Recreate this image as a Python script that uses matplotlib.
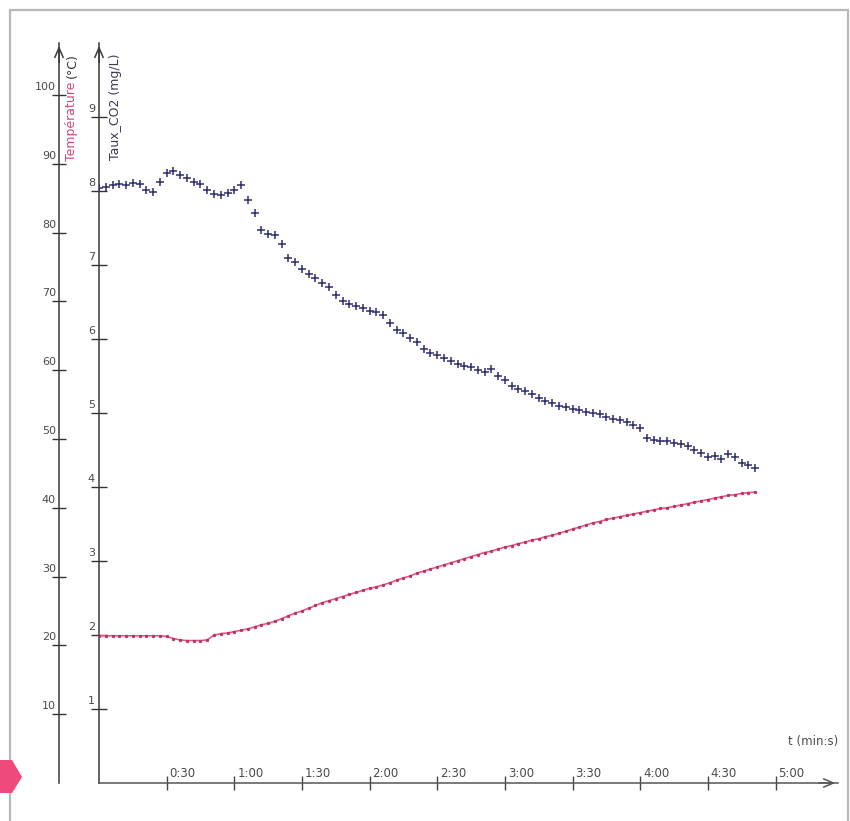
import numpy as np
import matplotlib
matplotlib.use('Agg')
import matplotlib.pyplot as plt
from matplotlib.patches import Polygon, Rectangle

plt.rcParams["font.family"] = ["DejaVu Sans"]

# samples every 3 s, from 0:00 to 4:51
time_s = np.arange(0, 294, 3)

co2_mgL = [
    8.04, 8.06, 8.08, 8.10, 8.08, 8.11, 8.10, 8.02, 7.99, 8.12,
    8.24, 8.27, 8.22, 8.18, 8.12, 8.10, 8.02, 7.96, 7.95, 7.97,
    8.02, 8.08, 7.88, 7.70, 7.47, 7.42, 7.40, 7.28, 7.10, 7.04,
    6.95, 6.88, 6.82, 6.76, 6.70, 6.60, 6.52, 6.47, 6.44, 6.42,
    6.38, 6.36, 6.32, 6.22, 6.12, 6.08, 6.02, 5.96, 5.86, 5.81,
    5.78, 5.74, 5.70, 5.66, 5.64, 5.62, 5.58, 5.55, 5.60, 5.50,
    5.44, 5.37, 5.33, 5.30, 5.26, 5.20, 5.16, 5.13, 5.10, 5.08,
    5.05, 5.04, 5.02, 5.00, 4.98, 4.95, 4.92, 4.90, 4.88, 4.84,
    4.80, 4.66, 4.64, 4.62, 4.62, 4.60, 4.58, 4.55, 4.50, 4.46,
    4.40, 4.42, 4.38, 4.45, 4.40, 4.32, 4.30, 4.26,
]

temp_C = [
    21.4, 21.4, 21.4, 21.4, 21.4, 21.4, 21.4, 21.4, 21.4, 21.4,
    21.3, 21.0, 20.8, 20.7, 20.7, 20.7, 20.8, 21.5, 21.7, 21.8,
    22.0, 22.2, 22.4, 22.7, 23.0, 23.2, 23.5, 23.9, 24.3, 24.7,
    25.0, 25.4, 25.8, 26.2, 26.5, 26.8, 27.1, 27.4, 27.7, 28.0,
    28.3, 28.5, 28.8, 29.1, 29.5, 29.8, 30.1, 30.5, 30.8, 31.1,
    31.4, 31.7, 32.0, 32.3, 32.6, 32.9, 33.2, 33.5, 33.7, 34.0,
    34.3, 34.5, 34.8, 35.0, 35.3, 35.5, 35.8, 36.0, 36.3, 36.6,
    36.9, 37.2, 37.5, 37.8, 38.0, 38.3, 38.5, 38.7, 38.9, 39.1,
    39.3, 39.5, 39.7, 39.9, 40.0, 40.2, 40.4, 40.6, 40.8, 41.0,
    41.2, 41.4, 41.6, 41.8, 41.9, 42.1, 42.2, 42.3,
]

x_ticks = [30, 60, 90, 120, 150, 180, 210, 240, 270, 300]
x_labels = ['0:30', '1:00', '1:30', '2:00', '2:30', '3:00', '3:30', '4:00', '4:30', '5:00']
co2_ticks = [1, 2, 3, 4, 5, 6, 7, 8, 9]
temp_ticks = [10, 20, 30, 40, 50, 60, 70, 80, 90, 100]

W, H = 850, 821
fig = plt.figure(figsize=(W / 100, H / 100), dpi=100)

# axes box in pixels: origin at (99, 783), top at 43, right at 838
x0, y0, x1, y1 = 99, 783, 838, 43
ax = fig.add_axes([x0 / W, (H - y0) / H, (x1 - x0) / W, (y0 - y1) / H])
ax.set_xlim(0, (x1 - x0) / 135.3 * 60)
ax.set_ylim(0, (y0 - y1) / 74.0)
ax.patch.set_visible(False)

ax_t = ax.twinx()
ax_t.set_ylim(0, (y0 - y1) / 6.88)
t_pos = (59 - x0) / (x1 - x0)

axis_col = '#3a3a3a'
lab_col = '#4a4a4a'

for a in (ax, ax_t):
    for s in a.spines.values():
        s.set_visible(False)

ax.spines['left'].set_visible(True)
ax.spines['bottom'].set_visible(True)
ax.spines['left'].set_color(axis_col)
ax.spines['bottom'].set_color('#555555')
ax.spines['left'].set_linewidth(1.1)
ax.spines['bottom'].set_linewidth(1.1)

ax_t.yaxis.tick_left()
ax_t.spines['left'].set_visible(True)
ax_t.spines['left'].set_position(('axes', t_pos))
ax_t.spines['left'].set_color(axis_col)
ax_t.spines['left'].set_linewidth(1.1)

ax.set_xticks(x_ticks)
ax.set_yticks(co2_ticks)
ax_t.set_yticks(temp_ticks)
ax.tick_params(axis='x', direction='inout', length=10, width=1.0, color='#444', labelbottom=False)
ax.tick_params(axis='y', direction='inout', length=11, width=1.0, color='#333', labelleft=False)
ax_t.tick_params(axis='y', direction='inout', length=10.5, width=1.0, color='#333',
                 labelleft=False, labelright=False, left=True, right=False)

# tick labels sit above / left of the tick, as in the original software
for v in co2_ticks:
    ax.annotate(str(v), xy=(0, v), xycoords=ax.get_yaxis_transform(), xytext=(-4, 8),
                textcoords='offset pixels', ha='right', va='center', fontsize=8, color=lab_col)
for v in temp_ticks:
    ax_t.annotate(str(v), xy=(t_pos, v), xycoords=ax_t.get_yaxis_transform(), xytext=(-3, 8),
                  textcoords='offset pixels', ha='right', va='center', fontsize=8, color=lab_col,
                  annotation_clip=False)
for v, lbl in zip(x_ticks, x_labels):
    ax.annotate(lbl, xy=(v, 0), xycoords=ax.get_xaxis_transform(), xytext=(3, 10),
                textcoords='offset pixels', ha='left', va='center', fontsize=8.5, color=lab_col)

# arrow heads
arr = dict(arrowstyle='->,head_length=0.7,head_width=0.3', color=axis_col, lw=1.1)
ax.annotate('', xy=(0, 1.0), xytext=(0, 0.97), xycoords='axes fraction', arrowprops=arr)
ax.annotate('', xy=(t_pos, 1.0), xytext=(t_pos, 0.97), xycoords='axes fraction',
            arrowprops=arr, annotation_clip=False)
ax.annotate('', xy=(1.0, 0), xytext=(0.97, 0), xycoords='axes fraction',
            arrowprops=dict(arr, color='#555555'))

# axis titles
ax.text((115 - x0) / (x1 - x0), (y0 - 53) / (y0 - y1), 'Taux_CO2 (mg/L)', transform=ax.transAxes,
        rotation=90, ha='center', va='top', fontsize=9, color='#3a3a55')
ax.text((72 - x0) / (x1 - x0), (y0 - 53) / (y0 - y1), '(°C)', transform=ax.transAxes,
        rotation=90, ha='center', va='top', fontsize=9, color='#333333', clip_on=False)
ax.text((72 - x0) / (x1 - x0), (y0 - 82) / (y0 - y1), 'Température', transform=ax.transAxes,
        rotation=90, ha='center', va='top', fontsize=9, color='#d4447a', clip_on=False)
ax.text(1.0, (y0 - 741) / (y0 - y1), 't (min:s)', transform=ax.transAxes,
        ha='right', va='center', fontsize=8.5, color=lab_col)

# data
ax_t.plot(time_s, temp_C, color='#e65a8a', lw=1.2, marker='o', ms=2.0,
          mfc='#c23066', mec='#b02860', mew=0.4, zorder=3)
ax.plot(time_s, co2_mgL, ls='none', marker='+', ms=6, mew=1.1, color='#2e2e70', zorder=4)

# outer grey frame and pink tab
fig.add_artist(Rectangle((10 / W, -0.02), (848 - 10) / W, 1 - 10 / H + 0.02,
                         transform=fig.transFigure, fill=False, ec='#b8b8b8', lw=1.6))
tab = np.array([[0, 760], [12, 760], [22, 777], [12, 793], [0, 793]], dtype=float)
tab[:, 0] /= W
tab[:, 1] = 1 - tab[:, 1] / H
fig.add_artist(Polygon(tab, closed=True, transform=fig.transFigure, fc='#ef4a7c', ec='none'))

fig.savefig('out.png', dpi=100)
